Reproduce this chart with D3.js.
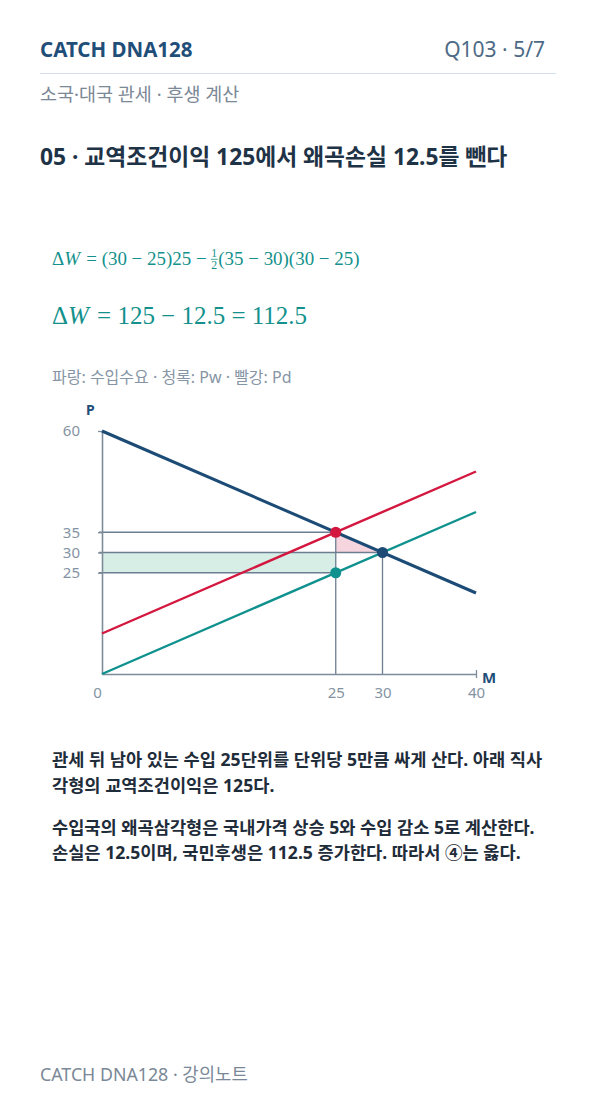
<!DOCTYPE html>
<html><head><meta charset="utf-8">
<script src="https://cdn.jsdelivr.net/npm/d3@7"></script>
<style>
html,body{margin:0;padding:0;background:#fff;}
svg text{font-family:"Noto Sans","Noto Sans CJK KR",sans-serif;}
</style></head>
<body><svg id="c" width="596" height="1106"></svg>
<script>
// ---- data ----
const demand = [[0,60],[40,20]];      // 수입수요 (파랑)
const pwLine = [[0,0],[40,40]];       // Pw (청록)
const pdLine = [[0,10],[40,50]];      // Pd (빨강)
const points = [{m:25,p:35,c:"#d3173f"},{m:30,p:30,c:"#1c4b75"},{m:25,p:25,c:"#0f918d"}];
const xTicks = [0,25,30,40];
const yTicks = [25,30,35,60];
const rectTot = {m0:0,m1:25,p0:25,p1:30};
const triangle = [[25,35],[25,30],[30,30]];
const guidesH = [[35,25],[30,30],[25,25]]; // [p, m end]
const guidesV = [[25,35],[30,30]];         // [m, p top]

const svg = d3.select("#c");
const x = d3.scaleLinear().domain([0,40]).range([102,476]);
const y = d3.scaleLinear().domain([0,60]).range([674,431]);

// header
svg.append("text").attr("x",40).attr("y",57).attr("font-size",20.5).attr("font-weight",700).attr("fill","#1f4e79").text("CATCH DNA128");
svg.append("text").attr("x",545).attr("y",57).attr("text-anchor","end").attr("font-size",21).attr("fill","#4d6a86").text("Q103 · 5/7");
svg.append("line").attr("x1",40).attr("x2",556).attr("y1",73.5).attr("y2",73.5).attr("stroke","#d3dfea").attr("stroke-width",1);
svg.append("text").attr("x",40).attr("y",101).attr("font-size",18.5).attr("fill","#7b8896").text("소국·대국 관세 · 후생 계산");
svg.append("text").attr("x",40).attr("y",165).attr("font-size",22.8).attr("font-weight",700).attr("fill","#1f3347").text("05 · 교역조건이익 125에서 왜곡손실 12.5를 뺀다");

// formulas
const fcol = "#14918c";
const ff = "'Liberation Serif','DejaVu Serif',serif";
function mathLine(yb, size0, target, parts){
  function draw(size){
    const g = svg.append("g");
    let cx = 52;
    parts.forEach(pt=>{
      if(pt.frac){
        const fs = size*0.62;
        const t1 = g.append("text").attr("x",cx).attr("y",yb-size*0.42).attr("font-size",fs).style("font-family",ff).attr("fill",fcol).text("1");
        const w = t1.node().getComputedTextLength();
        g.append("line").attr("x1",cx-0.5).attr("x2",cx+w+0.5).attr("y1",yb-size*0.3).attr("y2",yb-size*0.3).attr("stroke",fcol).attr("stroke-width",0.8);
        g.append("text").attr("x",cx).attr("y",yb+size*0.2).attr("font-size",fs).style("font-family",ff).attr("fill",fcol).text("2");
        cx += w+1;
      } else {
        const t = g.append("text").attr("x",cx).attr("y",yb).attr("font-size",size).style("font-family",ff).attr("fill",fcol)
          .attr("font-style",pt.it?"italic":"normal").style("white-space","pre").text(pt.t);
        cx += t.node().getComputedTextLength() + (pt.gap||0)*size;
      }
    });
    return [g,cx-52];
  }
  const [g0,w0] = draw(size0);
  g0.remove();
  draw(size0*target/w0);
}
mathLine(265,16.5,308,[{t:"Δ"},{t:"W",it:true,gap:0.08},{t:" = (30 − 25)25 − "},{frac:true},{t:"(35 − 30)(30 − 25)"}]);
mathLine(324,23,255,[{t:"Δ"},{t:"W",it:true,gap:0.08},{t:" = 125 − 12.5 = 112.5"}]);

// legend
svg.append("text").attr("x",52).attr("y",383).attr("font-size",16).attr("fill","#8695a5").text("파랑: 수입수요 · 청록: Pw · 빨강: Pd");

// shaded areas
svg.append("rect").attr("x",x(rectTot.m0)).attr("y",y(rectTot.p1)).attr("width",x(rectTot.m1)-x(rectTot.m0)).attr("height",y(rectTot.p0)-y(rectTot.p1)).attr("fill","#d7eee7");
svg.append("path").attr("d",d3.line().x(d=>x(d[0])).y(d=>y(d[1]))(triangle)+"Z").attr("fill","#f7d5de");

// guides
const gcol = "#6c7e91";
guidesH.forEach(([p,m])=>svg.append("line").attr("x1",x(0)-3).attr("x2",x(m)).attr("y1",y(p)).attr("y2",y(p)).attr("stroke",gcol).attr("stroke-width",1.3));
guidesV.forEach(([m,p])=>svg.append("line").attr("x1",x(m)).attr("x2",x(m)).attr("y1",y(0)).attr("y2",y(p)).attr("stroke",gcol).attr("stroke-width",1.3));

// axes
const acol = "#7d8c9b";
const ya = svg.append("g").attr("transform",`translate(${x(0)},0)`)
  .call(d3.axisLeft(y).tickValues(yTicks).tickSize(4).tickPadding(18).tickSizeOuter(0));
const xa = svg.append("g").attr("transform",`translate(0,${y(0)})`)
  .call(d3.axisBottom(x).tickValues(xTicks).tickSize(4).tickPadding(9).tickSizeOuter(0));
[ya,xa].forEach(a=>{
  a.select(".domain").attr("stroke",acol).attr("stroke-width",1.6);
  a.selectAll(".tick line").attr("stroke",acol).attr("stroke-width",1.3);
  a.selectAll(".tick text").attr("fill","#8493a3").attr("font-size",15).attr("font-family",null);
});
xa.selectAll(".tick line").attr("y1",-4);
xa.selectAll(".tick").filter(d=>d===0).select("text").attr("dx",-5);
xa.selectAll(".tick").filter(d=>d===0||d===25||d===30).select("line").remove();
svg.append("text").attr("x",86).attr("y",415).attr("font-size",14).attr("font-weight",700).attr("fill","#1f4e79").text("P");
svg.append("text").attr("x",482).attr("y",683).attr("font-size",15).attr("font-weight",700).attr("fill","#1f4e79").text("M");

// lines
const ln = d3.line().x(d=>x(d[0])).y(d=>y(d[1]));
svg.append("path").attr("d",ln(pdLine)).attr("stroke","#d3173f").attr("stroke-width",2.4).attr("fill","none");
svg.append("path").attr("d",ln(pwLine)).attr("stroke","#0f918d").attr("stroke-width",2.4).attr("fill","none");
svg.append("path").attr("d",ln(demand)).attr("stroke","#1c4b75").attr("stroke-width",3).attr("fill","none");
svg.selectAll("circle.pt").data(points).enter().append("circle").attr("class","pt")
  .attr("cx",d=>x(d.m)).attr("cy",d=>y(d.p)).attr("r",5.5).attr("fill",d=>d.c);

// body text
const body = [
  ["관세 뒤 남아 있는 수입 25단위를 단위당 5만큼 싸게 산다. 아래 직사",766],
  ["각형의 교역조건이익은 125다.",792],
  ["수입국의 왜곡삼각형은 국내가격 상승 5와 수입 감소 5로 계산한다.",834],
  ["손실은 12.5이며, 국민후생은 112.5 증가한다. 따라서 ④는 옳다.",859]
];
body.forEach(([t,yy])=>svg.append("text").attr("x",52).attr("y",yy).attr("font-size",17.6).attr("font-weight",700).attr("fill","#1f2c3a").text(t));

svg.append("text").attr("x",40).attr("y",1081).attr("font-size",17.8).attr("fill","#7a8898").text("CATCH DNA128 · 강의노트");
</script></body></html>
